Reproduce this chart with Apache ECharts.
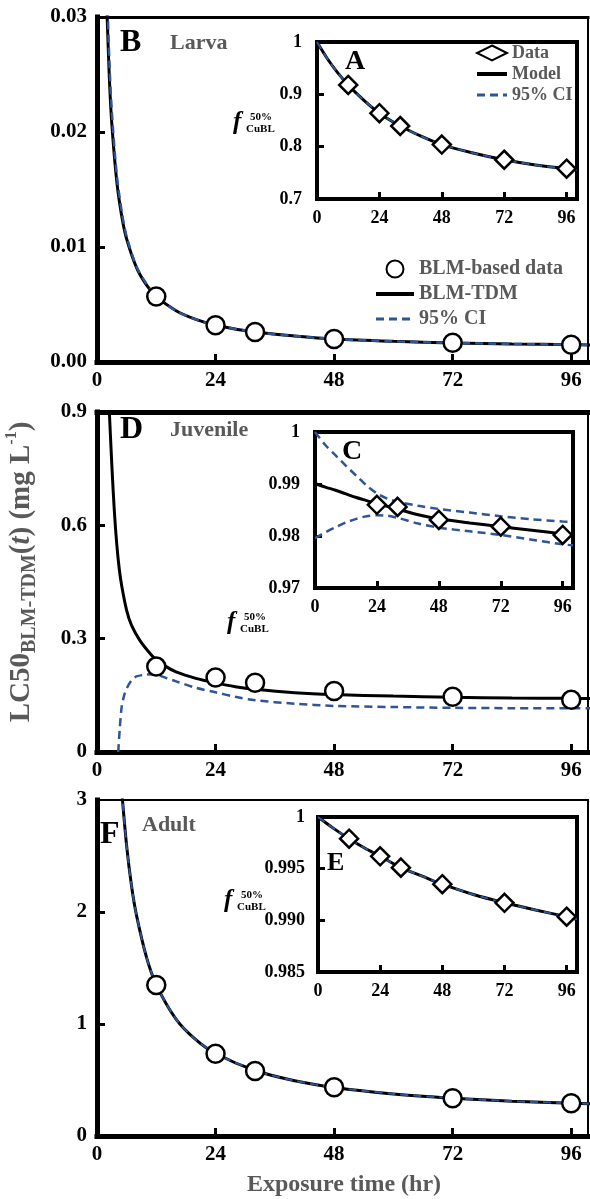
<!DOCTYPE html>
<html>
<head>
<meta charset="utf-8">
<title>LC50 BLM-TDM</title>
<script src="https://cdn.jsdelivr.net/npm/echarts@6/dist/echarts.min.js"></script>
<style>
  html, body { margin: 0; padding: 0; background: #fff; }
  #chart { width: 590px; height: 1199px; }
</style>
</head>
<body>
<div id="chart"></div>
<script>
// exposure times of the BLM-based data (hr)
const dataTimes = [12, 24, 32, 48, 72, 96];
const juvFTimes = [24, 32, 48, 72, 96];
const xTickLabels = [0, 24, 48, 72, 96];
const xInnerTicks = [24, 48, 72, 96];

// B / A : larva
const larvaLC50 = [0.0057, 0.0032, 0.0026, 0.0020, 0.00168, 0.0015];
const larvaCurveT = [2, 2.5, 3, 4, 5, 6, 8, 10, 12, 16, 20, 24, 32, 40, 48, 60, 72, 84, 96, 100];
const larvaModel = [0.0307, 0.0247, 0.0207, 0.0157, 0.0127, 0.0107, 0.0082, 0.0067, 0.0057, 0.00445, 0.0037, 0.0032, 0.0026, 0.00226, 0.0020, 0.0018, 0.00166, 0.00157, 0.0015, 0.00148];
const larvaCI = [0.0330, 0.0262, 0.0218, 0.0163, 0.0131, 0.0109, 0.0083, 0.0068, 0.0057, 0.00445, 0.0037, 0.0032, 0.0026, 0.00226, 0.0020, 0.0018, 0.00166, 0.00157, 0.0015, 0.00148];
const larvaF = [0.918, 0.864, 0.8395, 0.804, 0.775, 0.758];
const larvaFCurveT = [0, 4, 8, 12, 16, 20, 24, 28, 32, 40, 48, 60, 72, 84, 96, 100];
const larvaFModel = [1.0, 0.968, 0.941, 0.918, 0.898, 0.880, 0.864, 0.851, 0.8395, 0.82, 0.804, 0.788, 0.775, 0.765, 0.758, 0.756];

// D / C : juvenile
const juvLC50 = [0.226, 0.197, 0.1835, 0.1615, 0.1465, 0.138];
const juvCurveT = [2.5, 3, 3.5, 4, 4.5, 5, 6, 7, 8.7, 11, 12, 14, 16, 20, 24, 28, 32, 40, 48, 60, 72, 84, 96, 100];
const juvModel = [0.9, 0.76, 0.64, 0.55, 0.485, 0.44, 0.375, 0.335, 0.295, 0.257, 0.245, 0.226, 0.212, 0.195, 0.183, 0.173, 0.166, 0.157, 0.152, 0.148, 0.145, 0.143, 0.142, 0.1418];
const juvCICurveT = [4.3, 4.6, 5, 5.5, 6, 7, 8, 10, 11.5, 14, 16, 20, 24, 28, 32, 40, 48, 60, 72, 84, 96, 100];
const juvCILow = [0, 0.06, 0.12, 0.15, 0.168, 0.19, 0.2, 0.205, 0.206, 0.196, 0.187, 0.17, 0.158, 0.146, 0.137, 0.128, 0.122, 0.119, 0.117, 0.116, 0.1155, 0.1155];
const juvF = [0.986, 0.9856, 0.9831, 0.9818, 0.9802];
const juvFCurveT = [0, 4, 8, 12, 16, 20, 24, 28, 32, 40, 48, 60, 72, 84, 96, 100];
const juvFModel = [0.9901, 0.9894, 0.9888, 0.9881, 0.9874, 0.9868, 0.9862, 0.9857, 0.9852, 0.9841, 0.9833, 0.9825, 0.9818, 0.9811, 0.9804, 0.9802];
const juvFUpper = [1.0, 0.9975, 0.9955, 0.9935, 0.9916, 0.9897, 0.9882, 0.9872, 0.9866, 0.9858, 0.9852, 0.9845, 0.9838, 0.9832, 0.9828, 0.9827];
const juvFLower = [0.9796, 0.9807, 0.9817, 0.9826, 0.9833, 0.9838, 0.984, 0.9839, 0.9835, 0.9824, 0.9816, 0.9809, 0.9802, 0.9793, 0.9784, 0.9782];

// F / E : adult
const adultLC50 = [1.348, 0.735, 0.58, 0.435, 0.337, 0.292];
const adultCurveT = [4.8, 5, 6, 7, 8, 10, 12, 16, 20, 24, 32, 40, 48, 60, 72, 84, 96, 100];
const adultModel = [3.2, 3.08, 2.59, 2.23, 1.97, 1.60, 1.35, 1.044, 0.86, 0.737, 0.585, 0.494, 0.434, 0.376, 0.338, 0.311, 0.292, 0.287];
const adultF = [0.9979, 0.9962, 0.9951, 0.9935, 0.9917, 0.99035];
const adultFCurveT = [0, 6, 12, 18, 24, 32, 40, 48, 60, 72, 84, 96, 100];
const adultFModel = [1.0, 0.9989, 0.9979, 0.997, 0.9962, 0.9951, 0.9943, 0.9935, 0.9925, 0.9917, 0.991, 0.99035, 0.9901];

const serif = '"Liberation Serif", "Times New Roman", serif';
const blue = '#2F5597';
const gray = '#595959';

function zip(xs, ys) {
  return xs.map((x, i) => [x, ys[i]]);
}

const grids = [
  { left: 97, top: 17, width: 491, height: 345 },   // B
  { left: 317, top: 42, width: 260, height: 157 },  // A
  { left: 97, top: 412, width: 491, height: 340 },  // D
  { left: 315, top: 432, width: 258, height: 156 }, // C
  { left: 97, top: 800, width: 491, height: 336 },  // F
  { left: 318, top: 817, width: 259, height: 155 }  // E
];

const xAxis = [];
const yAxis = [];
function addAxes(gi, xMax, yMin, yMax, o) {
  const lab = { color: '#000', fontFamily: serif, fontWeight: 'bold', fontSize: o.fs };
  xAxis.push({
    gridIndex: gi, type: 'value', min: 0, max: xMax, position: 'bottom',
    axisLine: { show: true, onZero: false, lineStyle: { color: '#000', width: o.bottom, cap: 'square' } },
    axisTick: { show: true, inside: true, length: o.tickLen, customValues: xInnerTicks, lineStyle: { color: '#000', width: 3 } },
    axisLabel: Object.assign({ customValues: xTickLabels, margin: o.xMargin }, lab),
    splitLine: { show: false }
  });
  xAxis.push({
    gridIndex: gi, type: 'value', min: 0, max: xMax, position: 'top',
    axisLine: { show: true, onZero: false, lineStyle: { color: '#000', width: o.top, cap: 'square' } },
    axisTick: { show: false }, axisLabel: { show: false }, splitLine: { show: false }
  });
  yAxis.push({
    gridIndex: gi, type: 'value', min: yMin, max: yMax, position: 'left',
    axisLine: { show: true, onZero: false, lineStyle: { color: '#000', width: o.left, cap: 'square' } },
    axisTick: { show: true, inside: true, length: o.tickLen, customValues: o.yTicks, lineStyle: { color: '#000', width: 3 } },
    axisLabel: Object.assign({ customValues: o.yLabels, margin: o.yMargin, formatter: o.yFmt }, lab),
    splitLine: { show: false }
  });
  yAxis.push({
    gridIndex: gi, type: 'value', min: yMin, max: yMax, position: 'right',
    axisLine: { show: true, onZero: false, lineStyle: { color: '#000', width: o.right, cap: 'square' } },
    axisTick: { show: false }, axisLabel: { show: false }, splitLine: { show: false }
  });
}

const mainOpt = { fs: 21, xMargin: 8, yMargin: 10, left: 5, bottom: 5, right: 2, tickLen: 8 };
const insetOpt = { fs: 18, xMargin: 10, yMargin: 15, left: 4, bottom: 4, top: 4, right: 4, tickLen: 7 };

addAxes(0, 99.4, 0, 0.03, Object.assign({}, mainOpt, { top: 3, yTicks: [0.01, 0.02], yLabels: [0, 0.01, 0.02, 0.03], yFmt: v => v.toFixed(2) }));
addAxes(1, 100, 0.7, 1, Object.assign({}, insetOpt, { yTicks: [0.8, 0.9], yLabels: [0.7, 0.8, 0.9, 1], yFmt: v => v >= 0.999 ? '1' : v.toFixed(1) }));
addAxes(2, 99.4, 0, 0.9, Object.assign({}, mainOpt, { top: 5, yTicks: [0.3, 0.6], yLabels: [0, 0.3, 0.6, 0.9], yFmt: v => v === 0 ? '0' : v.toFixed(1) }));
addAxes(3, 100, 0.97, 1, Object.assign({}, insetOpt, { yTicks: [0.98, 0.99], yLabels: [0.97, 0.98, 0.99, 1], yFmt: v => v >= 0.999 ? '1' : v.toFixed(2) }));
addAxes(4, 99.4, 0, 3, Object.assign({}, mainOpt, { top: 2, yTicks: [1, 2], yLabels: [0, 1, 2, 3], yFmt: v => String(Math.round(v)) }));
addAxes(5, 100, 0.985, 1, Object.assign({}, insetOpt, { yMargin: 13, yTicks: [0.99, 0.995], yLabels: [0.985, 0.99, 0.995, 1], yFmt: v => v >= 0.9999 ? '1' : v.toFixed(3) }));

function line(gi, name, xs, ys, color, width, dashed, z) {
  return {
    type: 'line', name: name, xAxisIndex: gi * 2, yAxisIndex: gi * 2,
    data: zip(xs, ys), symbol: 'none', showSymbol: false, smooth: 0.3, z: z,
    lineStyle: { color: color, width: width, type: dashed ? [8, 5] : 'solid' },
    itemStyle: { color: color }
  };
}
function marks(gi, name, xs, ys, symbol, size) {
  return {
    type: 'scatter', name: name, xAxisIndex: gi * 2, yAxisIndex: gi * 2,
    data: zip(xs, ys), symbol: symbol, symbolSize: size, z: 5,
    itemStyle: { color: '#fff', borderColor: '#000', borderWidth: 2.5, opacity: 1 }
  };
}

const series = [
  // B
  marks(0, 'BLM-based data', dataTimes, larvaLC50, 'circle', 18),
  line(0, 'BLM-TDM', larvaCurveT, larvaModel, '#000', 3, false, 2),
  line(0, '95% CI', larvaCurveT, larvaCI, blue, 2.5, true, 3),
  // A
  marks(1, 'Data', dataTimes, larvaF, 'diamond', 18),
  line(1, 'Model', larvaFCurveT, larvaFModel, '#000', 3, false, 2),
  line(1, '95% CI', larvaFCurveT, larvaFModel, blue, 2, true, 3),
  // D
  marks(2, 'BLM-based data', dataTimes, juvLC50, 'circle', 18),
  line(2, 'BLM-TDM', juvCurveT, juvModel, '#000', 3, false, 2),
  line(2, '95% CI', juvCICurveT, juvCILow, blue, 2.5, true, 3),
  // C
  marks(3, 'Data', juvFTimes, juvF, 'diamond', 18),
  line(3, 'Model', juvFCurveT, juvFModel, '#000', 3, false, 2),
  line(3, '95% CI', juvFCurveT, juvFUpper, blue, 2.5, true, 3),
  line(3, '95% CI', juvFCurveT, juvFLower, blue, 2.5, true, 3),
  // F
  marks(4, 'BLM-based data', dataTimes, adultLC50, 'circle', 18),
  line(4, 'BLM-TDM', adultCurveT, adultModel, '#000', 3, false, 2),
  line(4, '95% CI', adultCurveT, adultModel, blue, 2, true, 3),
  // E
  marks(5, 'Data', dataTimes, adultF, 'diamond', 18),
  line(5, 'Model', adultFCurveT, adultFModel, '#000', 3, false, 2),
  line(5, '95% CI', adultFCurveT, adultFModel, blue, 2, true, 3)
];

function txt(x, y, text, size, color, extra) {
  return {
    type: 'text', x: x, y: y, z: 10,
    style: Object.assign({
      text: text, fill: color, fontFamily: serif, fontWeight: 'bold', fontSize: size,
      align: 'left', verticalAlign: 'middle', textAlign: 'left', textVerticalAlign: 'middle'
    }, extra || {})
  };
}
function fLabel(x, y) {
  return [
    txt(x, y, 'f', 25, '#000', { fontStyle: 'italic' }),
    txt(x + 17, y - 6, '50%', 11, '#000'),
    txt(x + 13, y + 6, 'CuBL', 11, '#000')
  ];
}

const graphic = [
  txt(120, 43, 'B', 32, '#000'),
  txt(170, 43, 'Larva', 22, gray),
  txt(345, 62, 'A', 28, '#000'),
  txt(120, 430, 'D', 32, '#000'),
  txt(170, 430, 'Juvenile', 22, gray),
  txt(342, 452, 'C', 28, '#000'),
  txt(100, 835, 'F', 32, '#000'),
  txt(142, 825, 'Adult', 22, gray),
  txt(327, 863, 'E', 26, '#000'),
  txt(344, 1185, 'Exposure time (hr)', 24, gray, { align: 'center', textAlign: 'center' }),
  {
    type: 'text', x: 22, y: 572, rotation: Math.PI / 2, z: 10,
    style: {
      text: '{a|LC50}{s|BLM-TDM}{a|(}{i|t}{a|) (mg L}{p|-1}{a|)}',
      align: 'center', verticalAlign: 'middle', textAlign: 'center', textVerticalAlign: 'middle',
      fill: gray,
      rich: {
        a: { fontFamily: serif, fontWeight: 'bold', fontSize: 29, lineHeight: 36, fill: gray, color: gray },
        i: { fontFamily: serif, fontWeight: 'bold', fontStyle: 'italic', fontSize: 29, lineHeight: 36, fill: gray, color: gray },
        s: { fontFamily: serif, fontWeight: 'bold', fontSize: 20, lineHeight: 19, verticalAlign: 'bottom', fill: gray, color: gray },
        p: { fontFamily: serif, fontWeight: 'bold', fontSize: 16, lineHeight: 16, verticalAlign: 'top', fill: gray, color: gray }
      }
    }
  }
].concat(fLabel(233, 123), fLabel(227, 623), fLabel(224, 901));

const legendText = { fontFamily: serif, fontWeight: 'bold', color: gray };
const noSymbol = { opacity: 0 };
const solidIcon = { color: '#000', width: 4, type: 'solid' };
const dashIcon = { color: blue, width: 3, type: [8, 5] };

const chart = echarts.init(document.getElementById('chart'));
chart.setOption({
  animation: false,
  backgroundColor: '#fff',
  grid: grids.map(g => Object.assign({ outerBoundsMode: 'none', containLabel: false }, g)),
  xAxis: xAxis,
  yAxis: yAxis,
  legend: [
    {
      data: ['BLM-based data',
        { name: 'BLM-TDM', itemStyle: noSymbol, lineStyle: solidIcon },
        { name: '95% CI', itemStyle: noSymbol, lineStyle: dashIcon }],
      orient: 'vertical', left: 374, top: 259, padding: 0,
      itemWidth: 38, itemHeight: 17, itemGap: 5, selectedMode: false,
      textStyle: Object.assign({ fontSize: 20, lineHeight: 18 }, legendText)
    },
    {
      data: ['Data',
        { name: 'Model', itemStyle: noSymbol, lineStyle: solidIcon },
        { name: '95% CI', itemStyle: noSymbol, lineStyle: dashIcon }],
      orient: 'vertical', left: 475, top: 44, padding: 0,
      itemWidth: 30, itemHeight: 15, itemGap: 3, selectedMode: false,
      textStyle: Object.assign({ fontSize: 18, lineHeight: 18 }, legendText)
    }
  ],
  graphic: graphic,
  series: series
});
</script>
</body>
</html>
